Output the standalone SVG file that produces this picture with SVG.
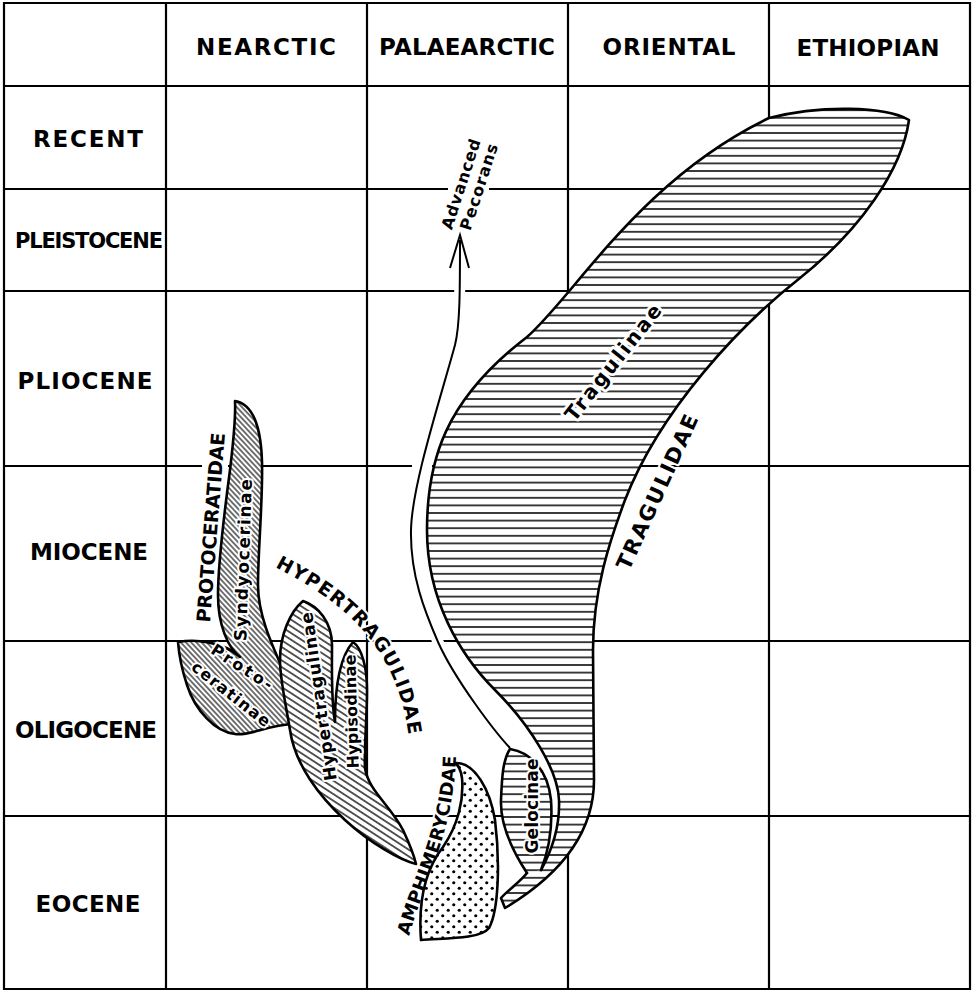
<svg xmlns="http://www.w3.org/2000/svg" width="978" height="992" viewBox="0 0 978 992">
<defs>
<style>
.grid{stroke:#000;stroke-width:2.2;fill:none;stroke-linecap:butt}
.ol{stroke:#000;stroke-width:2.6;stroke-linejoin:round;stroke-linecap:round}
.lbl{font-family:"DejaVu Sans","Liberation Sans",Arial,sans-serif;font-weight:bold;fill:#000}
.hdr{font-size:23px;text-anchor:middle}
.halo{stroke:#fff;stroke-width:4;stroke-linejoin:round;paint-order:stroke fill}
.halo5{stroke:#fff;stroke-width:5.5;stroke-linejoin:round;paint-order:stroke fill}
.mid{text-anchor:middle}
</style>
<pattern id="hatchH" patternUnits="userSpaceOnUse" width="20" height="7.6"><rect width="20" height="7.6" fill="#fff"/><line x1="0" y1="3.8" x2="20" y2="3.8" stroke="#000" stroke-width="1.5"/></pattern>
<pattern id="hatchFine" patternUnits="userSpaceOnUse" width="12" height="3.8" patternTransform="rotate(47)"><rect width="12" height="3.8" fill="#fff"/><line x1="0" y1="1.9" x2="12" y2="1.9" stroke="#000" stroke-width="1.1"/></pattern>
<pattern id="hatchStem" patternUnits="userSpaceOnUse" width="12" height="5.6" patternTransform="rotate(33)"><rect width="12" height="5.6" fill="#fff"/><line x1="0" y1="2.8" x2="12" y2="2.8" stroke="#000" stroke-width="1.3"/></pattern>
<pattern id="dots" patternUnits="userSpaceOnUse" width="11" height="11"><rect width="11" height="11" fill="#fff"/><circle cx="2.75" cy="2.75" r="1.6" fill="#000"/><circle cx="8.25" cy="8.25" r="1.6" fill="#000"/></pattern>
<path id="pHyper" d="M 275,567 C 338,600 396,640 409,738 L 412,790"/>
<path id="pAmphi" d="M 409,936 C 425,880 455,830 456,752 L 456,700"/>
</defs>
<rect x="0" y="0" width="978" height="992" fill="#fff"/>

<g id="grid" class="grid">
<path d="M3,3 H971 M3,86 H971 M3,189 H448 M489,189 H971 M3,291 H971 M3,466 H202 M228,466 H412 M432,466 H971 M3,641 H971 M3,816 H971 M3,989 H971"/>
<path d="M4,2 V990 M166,2 V990 M367,2 V990 M568,2 V990 M769,2 V990 M970,2 V990"/>
</g>

<g id="axis-labels" class="lbl hdr">
<text x="266" y="55" textLength="140" lengthAdjust="spacing">NEARCTIC</text>
<text x="467" y="55" textLength="176" lengthAdjust="spacing">PALAEARCTIC</text>
<text x="669" y="55" textLength="133" lengthAdjust="spacing">ORIENTAL</text>
<text x="868" y="56" textLength="143" lengthAdjust="spacing">ETHIOPIAN</text>
<text x="88" y="147" textLength="110" lengthAdjust="spacing">RECENT</text>
<text x="89" y="248" font-size="21" textLength="148" lengthAdjust="spacing">PLEISTOCENE</text>
<text x="85" y="389" textLength="135" lengthAdjust="spacing">PLIOCENE</text>
<text x="89" y="560" textLength="118" lengthAdjust="spacing">MIOCENE</text>
<text x="86" y="738" textLength="142" lengthAdjust="spacing">OLIGOCENE</text>
<text x="88" y="912" textLength="105" lengthAdjust="spacing">EOCENE</text>
</g>

<g id="connectors">
<path d="M 510,748 C 495,732 455,680 438,642 C 425,612 410,575 411,530 C 412,485 440,400 455,345 C 460,325 460,290 460,240" fill="none" stroke="#fff" stroke-width="11"/>
<path d="M 510,748 C 495,732 455,680 438,642 C 425,612 410,575 411,530 C 412,485 440,400 455,345 C 460,325 460,290 460,240" fill="none" stroke="#000" stroke-width="2"/>
<path d="M 450,268 L 460,235 L 469,268" fill="none" stroke="#000" stroke-width="2" stroke-linejoin="miter"/>
<g transform="translate(461,184) rotate(-72)"><text class="lbl halo mid" font-size="16" y="5.5" textLength="94" lengthAdjust="spacing">Advanced</text></g>
<g transform="translate(479,187) rotate(-72)"><text class="lbl halo mid" font-size="16" y="5.5" textLength="90" lengthAdjust="spacing">Pecorans</text></g>
</g>

<g id="protoceratidae">
<g transform="translate(210.5,527.5) rotate(-85.5)"><text class="lbl halo mid" font-size="19" y="7" textLength="190" lengthAdjust="spacing">PROTOCERATIDAE</text></g>
<path class="ol" fill="url(#hatchFine)" d="M 235,401 C 252,404 261,425 262,462 C 263,500 258,550 258,585 C 258,615 272,645 284,672 L 289,697 L 292,724 C 265,726 250,736 235,734 C 215,732 195,710 187,685 C 182,670 179,655 178,642 C 195,639 222,641 240,657 C 228,648 218,625 218,595 C 218,560 226,500 230,470 C 233,445 236,420 235,401 Z"/>
<g transform="translate(243,560) rotate(-88)"><text class="lbl halo mid" font-size="17" y="6" textLength="162" lengthAdjust="spacing">Syndyocerinae</text></g>
<g transform="translate(242,667) rotate(33)"><text class="lbl halo mid" font-size="16" y="5.5" textLength="70" lengthAdjust="spacing">Proto-</text></g>
<g transform="translate(231,694) rotate(38)"><text class="lbl halo mid" font-size="16" y="5.5" textLength="95" lengthAdjust="spacing">ceratinae</text></g>
</g>

<g id="hypertragulidae">
<text class="lbl halo" font-size="19" letter-spacing="1.3"><textPath href="#pHyper">HYPERTRAGULIDAE</textPath></text>
<path class="ol" fill="url(#hatchStem)" d="M 303,601 C 318,606 332,622 332,645 C 332,675 331,700 335,722 C 335,695 337,660 353,642 C 362,648 367,668 367,690 C 367,720 364,745 365,768 C 368,790 390,805 403,830 C 410,845 414,855 416,864 C 400,860 370,843 345,820 C 320,797 295,765 290,730 C 286,705 280,680 280,660 C 280,635 290,612 303,601 Z"/>
<g transform="translate(318.5,696.5) rotate(-98.3)"><text class="lbl halo mid" font-size="17" y="6" textLength="170" lengthAdjust="spacing">Hypertragulinae</text></g>
<g transform="translate(351.5,711.5) rotate(-91.7)"><text class="lbl halo mid" font-size="16" y="5.5" textLength="114" lengthAdjust="spacing">Hypisodinae</text></g>
</g>

<g id="amphimerycidae">
<text class="lbl halo" font-size="18" letter-spacing="0.3"><textPath href="#pAmphi">AMPHIMERYCIDAE</textPath></text>
<path class="ol" fill="url(#dots)" d="M 421,940 C 418,900 425,870 443,847 C 458,825 464,800 462,778 C 461,770 459,766 455,763 C 475,762 490,790 495,820 C 500,860 499,910 489,928 C 480,940 440,938 421,940 Z"/>
</g>

<g id="tragulidae">
<g transform="translate(657,492) rotate(-65.5)"><text class="lbl halo mid" font-size="21" y="7.5" textLength="168" lengthAdjust="spacing">TRAGULIDAE</text></g>
<path fill="url(#hatchH)" stroke="none" d="M 909,120 C 902,170 860,230 800,278 C 740,325 660,410 625,500 C 610,540 593,590 593,650 L 594,780 C 594,830 565,872 505,908 L 501,898 C 508,890 520,882 527,873 L 541,870 C 552,850 560,825 559,800 C 558,770 530,725 495,690 C 460,655 427,600 427,530 C 427,460 445,400 527,337 C 575,295 640,180 769,118 C 820,105 885,106 909,120 Z"/>
<path class="ol" fill="none" d="M 541,870 C 552,850 560,825 559,800 C 558,770 530,725 495,690 C 460,655 427,600 427,530 C 427,460 445,400 527,337 C 575,295 640,180 769,118 C 820,105 885,106 909,120 C 902,170 860,230 800,278 C 740,325 660,410 625,500 C 610,540 593,590 593,650 L 594,780 C 594,830 565,872 505,908 L 501,898 C 508,890 520,882 527,873"/>
<g transform="translate(613,362.5) rotate(-51.6)"><text class="lbl halo5 mid" font-size="20" y="7" textLength="142" lengthAdjust="spacing">Tragulinae</text></g>
</g>

<g id="gelocinae">
<path fill="url(#hatchH)" stroke="none" d="M 527,873 C 512,850 500,825 501,800 C 502,775 503,760 510,749 C 530,752 548,770 551,800 C 553,830 547,855 541,870 Z"/>
<path class="ol" fill="none" d="M 527,873 C 512,850 500,825 501,800 C 502,775 503,760 510,749 C 530,752 548,770 551,800 C 553,830 547,855 541,870"/>
<g transform="translate(532,806) rotate(-90)"><text class="lbl halo mid" font-size="17" y="6" textLength="95" lengthAdjust="spacing">Gelocinae</text></g>
</g>
</svg>
